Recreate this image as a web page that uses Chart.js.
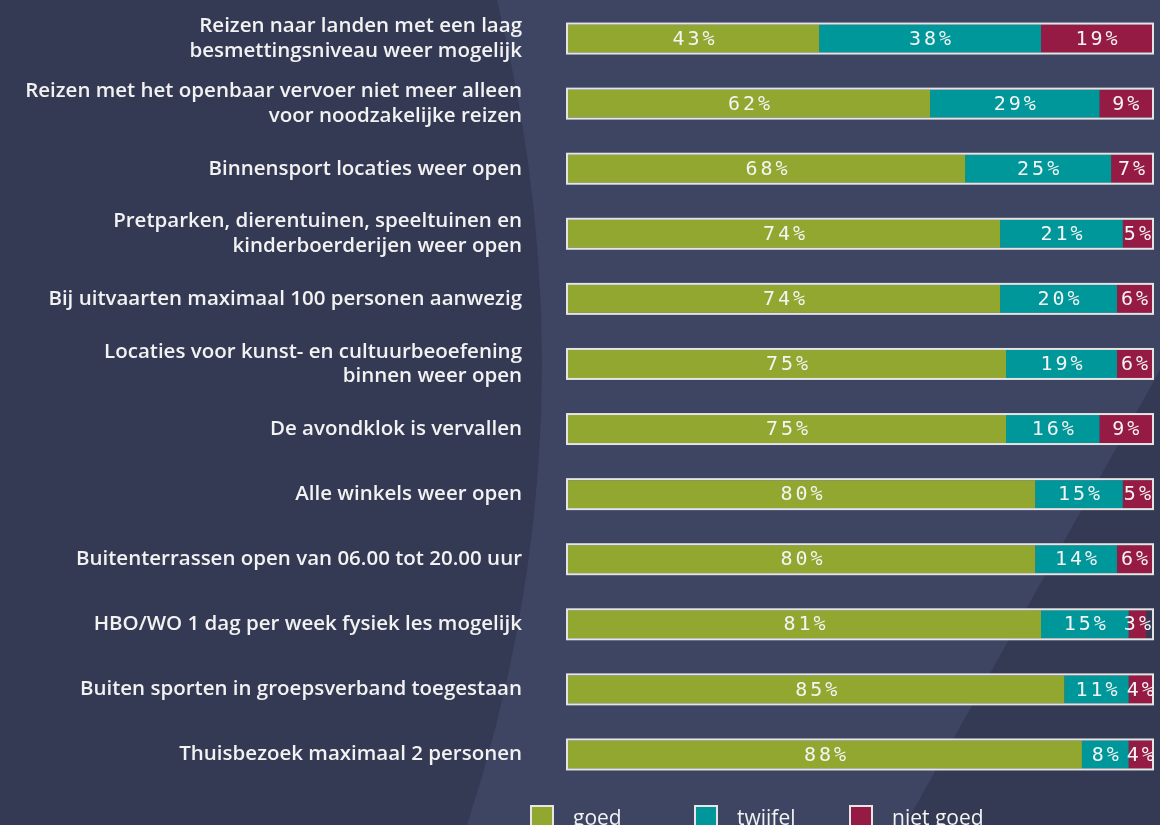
<!DOCTYPE html>
<html lang="nl">
<head>
<meta charset="UTF-8" />
<title>Versoepelingen</title>
<script src="https://cdn.jsdelivr.net/npm/chart.js"></script>
<style>
  html, body { margin: 0; padding: 0; background: #353a54; overflow: hidden; }
  #wrap { position: relative; width: 1160px; height: 825px; }
  #legend { position: absolute; left: 530px; top: 803px; display: flex; font-family: "Open Sans", sans-serif; font-weight: 500; font-size: 21px; color: #f2f2f2; white-space: nowrap; }
  .item { display: flex; align-items: flex-start; }
  .box { width: 20px; height: 20px; border: 2px solid #e6e6e6; margin-right: 19px; margin-top: 2px; }
</style>
</head>
<body>
<div id="wrap">
  <canvas id="chart" width="1160" height="825"></canvas>
  <div id="legend"></div>
</div>
<script>
const categories = [
  ["Reizen naar landen met een laag", "besmettingsniveau weer mogelijk"],
  ["Reizen met het openbaar vervoer niet meer alleen", "voor noodzakelijke reizen"],
  "Binnensport locaties weer open",
  ["Pretparken, dierentuinen, speeltuinen en", "kinderboerderijen weer open"],
  "Bij uitvaarten maximaal 100 personen aanwezig",
  ["Locaties voor kunst- en cultuurbeoefening", "binnen weer open"],
  "De avondklok is vervallen",
  "Alle winkels weer open",
  "Buitenterrassen open van 06.00 tot 20.00 uur",
  "HBO/WO 1 dag per week fysiek les mogelijk",
  "Buiten sporten in groepsverband toegestaan",
  "Thuisbezoek maximaal 2 personen"
];
const goed =     [43, 62, 68, 74, 74, 75, 75, 80, 80, 81, 85, 88];
const twijfel =  [38, 29, 25, 21, 20, 19, 16, 15, 14, 15, 11,  8];
const nietGoed = [19,  9,  7,  5,  6,  6,  9,  5,  6,  3,  4,  4];
const seriesNames = ["goed", "twijfel", "niet goed"];
const seriesColors = ["#92a730", "#00979a", "#951b45"];

// achtergrond met lichtere band
const bgPlugin = {
  id: "bg",
  beforeDraw(chart) {
    const c = chart.ctx;
    c.save();
    c.fillStyle = "#353a54";
    c.fillRect(0, 0, chart.width, chart.height);
    c.fillStyle = "#3d4563";
    c.beginPath();
    c.moveTo(497, 0);
    c.quadraticCurveTo(600, 420, 467, 825);
    c.lineTo(905, 825);
    c.lineTo(1160, 370);
    c.lineTo(1160, 0);
    c.closePath();
    c.fill();
    c.restore();
  }
};

// rand om de hele balk + percentages
const barPlugin = {
  id: "barDecor",
  afterDatasetsDraw(chart) {
    const c = chart.ctx;
    const xs = chart.scales.x;
    const x0 = xs.getPixelForValue(0);
    const x1 = xs.getPixelForValue(100);
    const meta0 = chart.getDatasetMeta(0);
    c.save();
    c.strokeStyle = "#e4e4e4";
    c.lineWidth = 2;
    meta0.data.forEach((bar) => {
      const h = bar.height;
      c.strokeRect(x0 - 1, bar.y - h / 2 - 1, x1 - x0 + 2, h + 2);
    });
    c.fillStyle = "#f4f4f4";
    c.font = "20px 'DejaVu Sans Mono'";
    c.letterSpacing = "3px";
    c.textAlign = "center";
    c.textBaseline = "middle";
    chart.data.datasets.forEach((ds, di) => {
      chart.getDatasetMeta(di).data.forEach((bar, i) => {
        const cx = (bar.x + bar.base) / 2 + 1.5;
        c.fillText(ds.data[i] + "%", cx, bar.y + 1);
      });
    });
    c.restore();
  }
};

const ctx = document.getElementById("chart").getContext("2d");
new Chart(ctx, {
  type: "bar",
  data: {
    labels: categories,
    datasets: [goed, twijfel, nietGoed].map((d, i) => ({
      label: seriesNames[i],
      data: d,
      backgroundColor: seriesColors[i],
      borderWidth: 0,
      barPercentage: 0.43,
      categoryPercentage: 1
    }))
  },
  options: {
    indexAxis: "y",
    responsive: false,
    animation: false,
    layout: { padding: { top: 6, bottom: 38, right: 8 } },
    plugins: { legend: { display: false }, tooltip: { enabled: false } },
    scales: {
      x: { stacked: true, min: 0, max: 100, display: false },
      y: {
        stacked: true,
        grid: { display: false, drawTicks: false },
        border: { display: false },
        afterFit: (s) => { s.width = 568; s.paddingTop = 0; s.paddingBottom = 0; },
        ticks: {
          color: "#f2f2f2",
          padding: 46,
          font: { family: "Open Sans", size: 20.5, weight: "600" },
          lineHeight: 1.32
        }
      }
    }
  },
  plugins: [bgPlugin, barPlugin]
});

const legend = document.getElementById("legend");
const itemWidths = [164, 155, 140];
seriesNames.forEach((n, i) => {
  const it = document.createElement("div");
  it.className = "item";
  it.style.width = itemWidths[i] + "px";
  it.innerHTML = '<div class="box" style="background:' + seriesColors[i] + '"></div><span>' + n + '</span>';
  legend.appendChild(it);
});
</script>
</body>
</html>
